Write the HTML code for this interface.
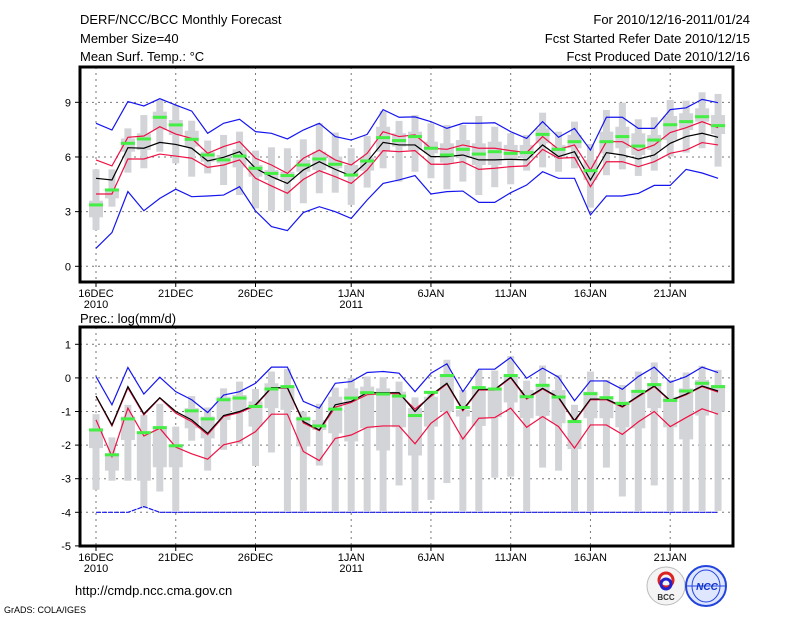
<!DOCTYPE html>
<html><head><meta charset="utf-8"><style>
html,body{margin:0;padding:0;background:#fff;}
svg{display:block;font-family:"Liberation Sans",sans-serif;}
</style></head><body>
<svg id="chart" width="800" height="618" viewBox="0 0 800 618" xmlns="http://www.w3.org/2000/svg">
<rect width="800" height="618" fill="#fff"/>
<g font-size="13" fill="#000">
<text x="80" y="24">DERF/NCC/BCC Monthly Forecast</text>
<text x="80" y="43">Member Size=40</text>
<text x="80" y="61">Mean Surf. Temp.: °C</text>
<text x="750" y="24" text-anchor="end">For 2010/12/16-2011/01/24</text>
<text x="750" y="43" text-anchor="end">Fcst Started Refer Date 2010/12/15</text>
<text x="750" y="61" text-anchor="end">Fcst Produced Date 2010/12/16</text>
<text x="80" y="323">Prec.: log(mm/d)</text>
<text x="75" y="595">http://cmdp.ncc.cma.gov.cn</text>
<text x="4" y="613" font-size="9">GrADS: COLA/IGES</text>
</g>
<g id="top"></g>
<g id="bot"></g>
<g>
<circle cx="666" cy="586" r="19" fill="#f4f4f4" stroke="#bbb"/>
<circle cx="666" cy="580" r="7" fill="none" stroke="#d22" stroke-width="3"/>
<circle cx="666" cy="584" r="5" fill="none" stroke="#22c" stroke-width="3"/>
<text x="666" y="600" font-size="8" text-anchor="middle" font-weight="bold" fill="#333">BCC</text>
</g>
<g>
<circle cx="706" cy="586" r="20" fill="#dfe6ff" stroke="#2244dd" stroke-width="2"/>
<ellipse cx="706" cy="586" rx="14" ry="16" fill="none" stroke="#2244dd"/>
<line x1="686" y1="586" x2="726" y2="586" stroke="#2244dd"/>
<text x="707" y="590" font-size="10" text-anchor="middle" font-style="italic" font-weight="bold" fill="#1133cc">NCC</text>
</g>
</svg>
<script>
const dayLabels = ["16DEC","21DEC","26DEC","1JAN","6JAN","11JAN","16JAN","21JAN"];
const dayLabelIdx = [0,5,10,16,21,26,31,36];
const yearLabels = ["2010","","","2011","","","",""];
// Temperature panel data (days 0..39)
const tBlueUp = [7.85,7.48,9.04,8.8,9.2,8.85,8.52,7.3,7.85,8.07,7.39,7.3,6.99,7.48,7.85,7.12,6.93,7.24,8.6,8.18,8.2,7.94,7.57,7.85,7.85,7.88,7.39,7.02,7.94,7.08,7.57,6.38,8.18,8.18,7.57,7.57,8.6,8.7,9.16,8.98];
const tBlueLo = [0.99,1.85,4.1,3.05,3.73,4.23,3.82,3.86,3.91,4.37,3.04,2.18,1.96,2.95,3.27,3.0,2.63,3.64,4.55,4.74,4.98,3.97,4.1,4.13,3.51,3.51,4.04,4.46,5.19,4.83,4.83,2.82,3.86,3.86,4.0,4.44,4.44,5.32,5.12,4.83];
const tMean = [4.83,4.74,6.51,6.48,6.8,6.69,6.48,5.78,5.98,6.29,5.38,4.92,4.55,5.29,5.74,5.32,4.96,5.74,6.8,6.66,6.66,6.02,6.02,6.11,5.84,5.84,5.87,5.84,6.66,6.02,6.29,4.74,6.24,6.11,5.89,6.11,6.75,7.12,7.3,7.08];
const tRedUp = [5.84,5.51,7.08,7.15,7.66,7.26,7.02,6.2,6.57,6.84,5.93,5.56,5.1,5.93,6.38,5.84,5.56,6.2,7.39,7.12,7.21,6.48,6.42,6.66,6.48,6.48,6.35,6.24,7.12,6.42,6.66,5.29,6.84,6.84,6.35,6.66,7.34,7.61,7.94,7.61];
const tRedLo = [3.97,3.97,5.89,5.89,6.16,6.05,5.93,5.43,5.56,5.84,4.83,4.41,4.01,4.77,5.25,4.92,4.55,5.29,6.35,6.29,6.35,5.6,5.6,5.74,5.32,5.38,5.47,5.51,6.42,5.93,5.97,4.37,5.74,5.74,5.47,5.74,6.2,6.38,6.79,6.66];
const tMedian = [3.37,4.19,6.75,6.99,8.18,7.76,6.97,6.11,5.84,6.05,5.38,5.1,4.98,5.56,5.89,5.6,5.01,5.78,7.06,6.9,7.12,6.48,6.11,6.42,6.16,6.29,6.2,6.24,7.24,6.42,6.84,5.25,6.84,7.12,6.6,6.93,7.77,7.94,8.21,7.72];
const tMax = [5.32,5.32,7.57,8.3,9.13,8.85,7.99,6.9,7.21,7.39,6.35,6.53,6.48,6.97,7.85,7.34,6.48,7.15,8.52,7.98,8.3,7.85,7.76,7.76,8.25,7.66,7.3,7.21,8.43,7.39,7.94,6.71,8.58,8.98,8.07,8.18,9.13,9.09,9.55,9.46];
const tMin = [1.99,3.27,5.14,5.38,6.29,5.65,4.92,5.1,4.46,3.91,3.18,3.04,3.05,3.46,4.01,4.04,3.37,4.32,5.38,4.65,5.19,4.83,4.23,4.65,3.91,4.34,4.5,5.25,5.43,5.19,5.38,3.22,5.0,5.32,4.96,5.25,6.02,6.24,6.48,5.47];
const tQ3 = [3.6,4.23,7.02,7.3,8.49,8.03,7.44,6.29,6.11,6.42,5.56,5.29,5.19,5.84,6.29,6.02,5.56,5.98,7.66,7.3,7.39,6.84,6.75,6.93,6.75,6.84,6.66,6.66,7.57,6.66,7.21,5.84,7.39,7.66,7.3,7.21,8.25,8.4,8.67,8.3];
const tQ1 = [2.69,3.73,6.29,6.38,7.48,7.21,6.57,5.74,5.65,5.43,4.92,4.74,4.74,5.19,5.29,5.38,4.92,5.25,6.29,6.57,6.38,6.2,5.69,5.93,5.56,5.56,5.84,5.93,6.75,6.02,6.48,4.74,6.2,6.48,6.11,6.38,6.93,7.48,7.94,7.26];
const tTicks = [0,3,6,9];
// Precipitation panel data
const pBlueUp = [0.04,-0.8,0.31,-0.48,0.02,-0.41,-0.65,-1.03,-0.51,-0.41,-0.16,0.32,0.32,-0.7,-0.9,-0.16,-0.11,0.16,0.19,0.14,-0.41,0.14,0.42,-0.41,0.26,0.26,0.61,-0.01,0.29,0.02,-0.68,-0.09,-0.09,-0.34,0.04,0.32,-0.13,0.04,0.32,0.16];
const pBlueLo = [-4,-4,-4,-3.83,-4,-4,-4,-4,-4,-4,-4,-4,-4,-4,-4,-4,-4,-4,-4,-4,-4,-4,-4,-4,-4,-4,-4,-4,-4,-4,-4,-4,-4,-4,-4,-4,-4,-4,-4,-4];
const pMean = [-0.54,-1.4,-0.26,-1.07,-0.59,-1.0,-1.25,-1.65,-1.12,-1.0,-0.8,-0.29,-0.29,-1.3,-1.55,-0.8,-0.7,-0.44,-0.44,-0.44,-1.0,-0.51,-0.16,-0.95,-0.34,-0.34,0.02,-0.6,-0.31,-0.58,-1.27,-0.63,-0.63,-0.85,-0.54,-0.24,-0.67,-0.48,-0.24,-0.39];
const pRedUp = [-0.55,-1.43,-0.3,-1.1,-0.6,-1.05,-1.3,-1.69,-1.15,-1.03,-0.83,-0.3,-0.3,-1.34,-1.57,-0.87,-0.73,-0.5,-0.47,-0.47,-0.93,-0.55,-0.18,-0.98,-0.36,-0.36,0.0,-0.63,-0.33,-0.6,-1.3,-0.65,-0.65,-0.87,-0.56,-0.26,-0.69,-0.5,-0.26,-0.42];
const pRedLo = [-1.25,-2.34,-0.9,-1.73,-1.5,-2.06,-2.26,-2.42,-1.99,-1.88,-1.6,-1.08,-1.08,-2.19,-2.46,-1.8,-1.7,-1.47,-1.43,-1.43,-1.96,-1.35,-1.0,-1.82,-1.2,-1.18,-0.9,-1.47,-1.15,-1.45,-2.09,-1.4,-1.4,-1.68,-1.31,-1.0,-1.45,-1.18,-0.92,-1.08];
const pMedian = [-1.55,-2.29,-1.22,-1.63,-1.48,-2.02,-0.98,-1.22,-0.65,-0.6,-0.85,-0.33,-0.26,-1.22,-1.43,-0.93,-0.6,-0.44,-0.48,-0.54,-1.12,-0.43,0.07,-0.88,-0.29,-0.33,0.07,-0.56,-0.22,-0.57,-1.3,-0.47,-0.59,-0.76,-0.4,-0.2,-0.67,-0.39,-0.16,-0.26];
const pMax = [-1.08,-1.77,-0.8,-1.1,-0.77,-1.45,-0.54,-0.88,-0.31,-0.11,-0.33,0.19,0.27,-1.0,-0.77,-0.29,0.0,0.04,0.02,-0.11,-0.58,-0.46,0.54,-0.36,0.24,0.22,0.65,-0.08,0.37,0.09,-0.8,0.19,-0.06,-0.21,0.19,0.46,-0.06,0.16,0.36,0.24];
const pMin = [-3.33,-3.06,-3.06,-3.88,-3.38,-3.96,-1.87,-2.76,-2.14,-1.96,-2.62,-2.22,-3.96,-3.96,-2.61,-3.96,-3.96,-3.96,-3.96,-3.2,-3.96,-3.63,-3.13,-3.96,-3.96,-2.97,-2.94,-3.96,-2.67,-2.76,-3.96,-3.96,-2.67,-3.53,-3.96,-3.2,-3.96,-3.96,-3.96,-3.96];
const pQ3 = [-1.5,-2.24,-1.15,-1.6,-1.45,-2.0,-0.9,-1.15,-0.56,-0.51,-0.7,-0.16,-0.24,-1.15,-1.25,-0.56,-0.31,-0.26,-0.31,-0.41,-0.9,-0.56,0.09,-0.95,-0.31,-0.31,0.09,-0.36,-0.21,-0.36,-1.25,-0.41,-0.6,-0.7,-0.36,-0.16,-0.56,-0.31,-0.06,-0.21];
const pQ1 = [-2.09,-2.76,-1.85,-3.06,-2.66,-2.66,-1.5,-1.8,-1.25,-1.0,-1.45,-0.9,-0.95,-2.04,-1.55,-1.65,-1.89,-1.5,-2.16,-1.47,-2.31,-1.45,-1.0,-1.15,-1.43,-1.17,-0.73,-1.2,-1.13,-1.35,-2.12,-1.2,-1.2,-1.47,-1.5,-0.9,-1.47,-1.83,-1.12,-1.0];
const pTicks = [1,0,-1,-2,-3,-4,-5];

const NS = "http://www.w3.org/2000/svg";
function xAt(d){ return 96 + 15.95*d; }
function mk(parent, tag, attrs){ const e=document.createElementNS(NS,tag); for(const k in attrs) e.setAttribute(k,attrs[k]); parent.appendChild(e); return e; }

function panel(g, cfg){
  const yAt = cfg.yAt;
  // grid
  cfg.ticks.forEach(v=>{
    const y=yAt(v);
    if (y>cfg.top+2 && y<cfg.bottom-2){
      const l=mk(g,'line',{x1:80,x2:733,y1:y,y2:y,stroke:'#777','stroke-dasharray':'2,4','stroke-width':1});
      
      
    }
    const t=mk(g,'line',{x1:75,x2:80,y1:y,y2:y,stroke:'#000'});
    
    
    const lb=mk(g,'text',{x:71,y:y+4,'text-anchor':'end','font-size':11});
    lb.textContent=String(v);
    
    
  });
  dayLabelIdx.forEach((d,i)=>{
    const x=xAt(d);
    const l=mk(g,'line',{x1:x,x2:x,y1:cfg.top,y2:cfg.bottom,stroke:'#777','stroke-dasharray':'2,4'});
    
    
    const t=mk(g,'line',{x1:x,x2:x,y1:cfg.bottom,y2:cfg.bottom+5,stroke:'#000'});
    
    
    const lb=mk(g,'text',{x:x,y:cfg.bottom+15,'text-anchor':'middle','font-size':11});
    lb.textContent=dayLabels[i];
    
    
    if (yearLabels[i]){
      const yl=mk(g,'text',{x:x,y:cfg.bottom+26,'text-anchor':'middle','font-size':11});
      yl.textContent=yearLabels[i];
      
      
    }
  });
  // boxes
  const d=cfg.data;
  d.max.forEach((_,i)=>{
    const x=xAt(i);
    const w=mk(g,'rect',{x:x-3.5,y:yAt(d.max[i]),width:7,height:Math.max(1,yAt(d.min[i])-yAt(d.max[i])),fill:'#d3d4d8'});
    
    
    const b=mk(g,'rect',{x:x-7,y:yAt(d.q3[i]),width:14,height:Math.max(1,yAt(d.q1[i])-yAt(d.q3[i])),fill:'#d3d4d8'});
    
    
  });
  const line=(arr,color,name,dash)=>{
    const p=mk(g,'polyline',{points:arr.map((v,i)=>xAt(i)+','+yAt(v)).join(' '),fill:'none',stroke:color,'stroke-width':1.2});
    if(dash) p.setAttribute('stroke-dasharray',dash);
    
    
  };
  line(d.blueUp,'#1515ee','upper-bound-line');
  line(d.blueLo,'#1515ee','lower-bound-line',cfg.dashLo);
  line(d.redUp,'#ee1144','upper-spread-line');
  line(d.redLo,'#ee1144','lower-spread-line');
  line(d.mean,'#000','ensemble-mean-line');
  d.median.forEach((v,i)=>{
    const m=mk(g,'rect',{x:xAt(i)-7,y:yAt(v)-1.5,width:14,height:3,fill:'#44ee44'});
    
    
  });
  const f=mk(g,'rect',{x:80,y:cfg.top,width:653,height:cfg.bottom-cfg.top,fill:'none',stroke:'#000','stroke-width':3});
  
  
}
panel(document.getElementById('top'),{
  yAt:v=>266.3-18.22*v, top:67, bottom:282, ticks:tTicks,
  data:{blueUp:tBlueUp,blueLo:tBlueLo,mean:tMean,redUp:tRedUp,redLo:tRedLo,median:tMedian,max:tMax,min:tMin,q3:tQ3,q1:tQ1}
});
panel(document.getElementById('bot'),{
  yAt:v=>377.9-33.6*v, top:327, bottom:546, ticks:pTicks, dashLo:'5,1',
  data:{blueUp:pBlueUp,blueLo:pBlueLo,mean:pMean,redUp:pRedUp,redLo:pRedLo,median:pMedian,max:pMax,min:pMin,q3:pQ3,q1:pQ1}
});
</script>
</body></html>
